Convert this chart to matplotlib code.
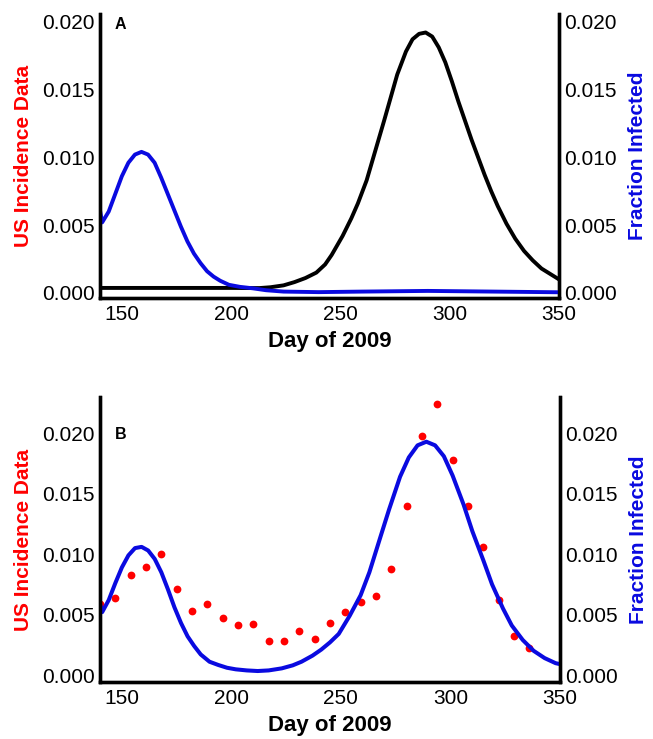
import numpy as np
import matplotlib.pyplot as plt

plt.rcParams['font.family'] = ['Liberation Sans', 'DejaVu Sans']

BLUE = '#0a0ae0'
RED = '#ff0000'

# Panel A: first wave (fraction infected) and second wave model curve
day_a_first = [140, 141, 144, 147, 150, 153, 156, 159, 162, 165, 168, 171, 174, 177,
               180, 183, 186, 189, 192, 195, 199, 204, 210, 216, 224, 240, 260, 290,
               320, 350]
frac_a_first = [0.0061, 0.0052, 0.0060, 0.0073, 0.0086, 0.0096, 0.0102, 0.0104, 0.0102,
                0.0096, 0.0085, 0.0073, 0.0061, 0.0049, 0.0038, 0.0029, 0.0022, 0.0016,
                0.0012, 0.0009, 0.0006, 0.00045, 0.00034, 0.0002, 0.0001, 0.00006,
                0.0001, 0.00015, 0.0001, 0.00005]

day_a_second = [140, 200, 208, 213, 218, 224, 229, 234, 239, 243, 246, 251, 255, 258,
                262, 266, 270, 273, 276, 280, 283, 286, 289, 292, 295, 298, 301, 304,
                307, 310, 313, 316, 319, 322, 326, 330, 334, 338, 342, 346, 350]
frac_a_second = [0.00037, 0.00037, 0.00036, 0.00036, 0.00042, 0.00056, 0.0008, 0.0011,
                 0.0015, 0.0021, 0.0028, 0.0042, 0.0055, 0.0066, 0.0083, 0.0105, 0.0127,
                 0.0144, 0.0161, 0.0178, 0.0187, 0.0191, 0.0192, 0.0189, 0.0181, 0.0170,
                 0.0156, 0.0141, 0.0127, 0.0113, 0.0100, 0.0087, 0.0075, 0.0064, 0.0051,
                 0.0040, 0.0031, 0.0024, 0.0018, 0.0014, 0.0010]

# Panel B: model fit against weekly US incidence
day_b_model = [140, 141, 144, 147, 150, 153, 156, 159, 162, 165, 168, 171, 174, 177, 180,
               183, 186, 190, 194, 198, 202, 207, 212, 217, 223, 228, 232, 237, 241, 245,
               249, 254, 259, 263, 268, 272, 277, 281, 285, 289, 293, 297, 301, 306, 310,
               315, 319, 324, 328, 333, 338, 343, 348, 350]
frac_b_model = [0.0059, 0.0052, 0.0062, 0.0076, 0.0089, 0.0099, 0.0105, 0.0106, 0.0103,
                0.0096, 0.0085, 0.0071, 0.0056, 0.0043, 0.0032, 0.0024, 0.0017, 0.0011,
                0.00083, 0.0006, 0.00047, 0.00038, 0.00033, 0.00038, 0.00055, 0.0008,
                0.0011, 0.0016, 0.0021, 0.0027, 0.0034, 0.0049, 0.0066, 0.0085, 0.0114,
                0.0137, 0.0164, 0.0180, 0.0190, 0.0193, 0.0190, 0.0181, 0.0165, 0.0141,
                0.0119, 0.0095, 0.0075, 0.0055, 0.0041, 0.0029, 0.0020, 0.0014, 0.00098,
                0.0009]

day_us = [140, 147, 154, 161, 168, 175, 182, 189, 196, 203, 210, 217, 224, 231, 238,
          245, 252, 259, 266, 273, 280, 287, 294, 301, 308, 315, 322, 329, 336]
incidence_us = [0.0059, 0.0064, 0.0083, 0.0089, 0.0100, 0.0071, 0.0053, 0.0059, 0.0047,
                0.0041, 0.0042, 0.0028, 0.0028, 0.0036, 0.0030, 0.0043, 0.0052, 0.0060,
                0.0065, 0.0088, 0.0140, 0.0198, 0.0224, 0.0178, 0.0140, 0.0106, 0.0062,
                0.0032, 0.0022]

yticks = [0.000, 0.005, 0.010, 0.015, 0.020]
xticks = [150, 200, 250, 300, 350]


def style_axes(ax, ax2, ylim, letter, letter_y):
    for a in (ax, ax2):
        a.set_xlim(140, 350)
        a.set_ylim(*ylim)
        a.spines['top'].set_visible(False)
        for s in ('left', 'right', 'bottom'):
            a.spines[s].set_linewidth(2.4)
        a.tick_params(length=0, labelsize=15)
        a.tick_params(axis='y', pad=4)
        a.tick_params(axis='x', pad=5)
        a.set_yticks(yticks)
        a.set_yticklabels([f'{v:.3f}' for v in yticks])
    ax.set_xticks(xticks)
    ax.set_xlabel('Day of 2009', fontsize=16, fontweight='bold', labelpad=5)
    ax.set_ylabel('US Incidence Data', fontsize=15, fontweight='bold', color=RED,
                  labelpad=6)
    ax2.set_ylabel('Fraction Infected', fontsize=15, fontweight='bold', color=BLUE,
                   rotation=90, labelpad=8)
    ax.text(0.032, letter_y, letter, transform=ax.transAxes, fontsize=11.5,
            fontweight='bold', va='top', ha='left')


fig = plt.figure(figsize=(6.53, 7.39), dpi=100)

ax_a = fig.add_axes([0.1531, 0.5968, 0.7029, 0.3842])
ax_a2 = ax_a.twinx()
ax_a.plot(day_a_second, frac_a_second, color='black', lw=2.8, solid_joinstyle='round')
ax_a2.plot(day_a_first, frac_a_first, color=BLUE, lw=2.8, solid_joinstyle='round')
style_axes(ax_a, ax_a2, (-0.00037, 0.02056), 'A', 0.99)

ax_b = fig.add_axes([0.1531, 0.0771, 0.7044, 0.3857])
ax_b2 = ax_b.twinx()
ax_b.plot(day_us, incidence_us, 'o', color=RED, ms=5.6, mec='none')
ax_b2.plot(day_b_model, frac_b_model, color=BLUE, lw=2.9, solid_joinstyle='round')
style_axes(ax_b, ax_b2, (-0.00058, 0.0230), 'B', 0.895)

fig.savefig('out.png', dpi=100)
